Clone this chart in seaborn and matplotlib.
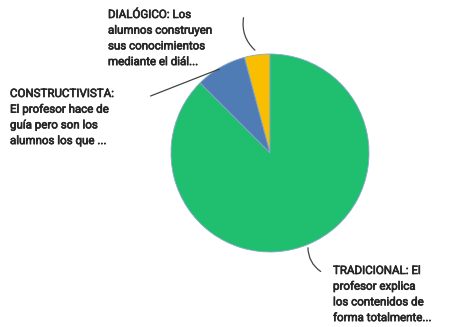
import matplotlib
matplotlib.use("Agg")
import matplotlib.pyplot as plt
import matplotlib.patheffects as pe
import seaborn as sns

# Data (counts)
categories = ["DIALÓGICO", "CONSTRUCTIVISTA", "TRADICIONAL"]
values = [1, 2, 21]
labels = [
    "DIALÓGICO: Los\nalumnos construyen\nsus conocimientos\nmediante el diál...",
    "CONSTRUCTIVISTA:\nEl profesor hace de\nguía pero son los\nalumnos los que ...",
    "TRADICIONAL: El\nprofesor explica\nlos contenidos de\nforma totalmente...",
]
colors = ["#F9BE00", "#507CB6", "#1FBF6F"]

sns.set_theme(style="white")
plt.rcParams['font.family'] = ['Roboto', 'DejaVu Sans']

W, H = 459, 327
fig = plt.figure(figsize=(W / 100, H / 100), dpi=100)
ax = fig.add_axes([0, 0, 1, 1])

def Y(y):
    return H - y

ax.pie(values, colors=colors, startangle=90, counterclock=True,
       center=(270, Y(153)), radius=99,
       wedgeprops=dict(linewidth=0.6, edgecolor="#8aa6c8"))
ax.set_xlim(0, W)
ax.set_ylim(0, H)
ax.set_aspect('equal')
ax.axis('off')

tc = "#262626"
fs = 8.3
positions = [(108, 8), (10, 87), (333, 264)]
for lab, (x, y) in zip(labels, positions):
    ax.text(x, Y(y), lab, ha='left', va='top', fontsize=fs, color=tc,
            linespacing=1.27,
            path_effects=[pe.withStroke(linewidth=0.45, foreground=tc)])

lc = "#444444"
ax.annotate("", xy=(257, Y(52)), xytext=(244, Y(15)),
            arrowprops=dict(arrowstyle='-', color=lc, lw=0.9,
                            connectionstyle="arc3,rad=0.3"))
ax.annotate("", xy=(222, Y(68)), xytext=(148, Y(97)),
            arrowprops=dict(arrowstyle='-', color=lc, lw=0.9,
                            connectionstyle="arc3,rad=0"))
ax.annotate("", xy=(323, Y(273)), xytext=(308, Y(245)),
            arrowprops=dict(arrowstyle='-', color=lc, lw=0.9,
                            connectionstyle="arc3,rad=0.3"))

fig.savefig("out.png", dpi=100)
